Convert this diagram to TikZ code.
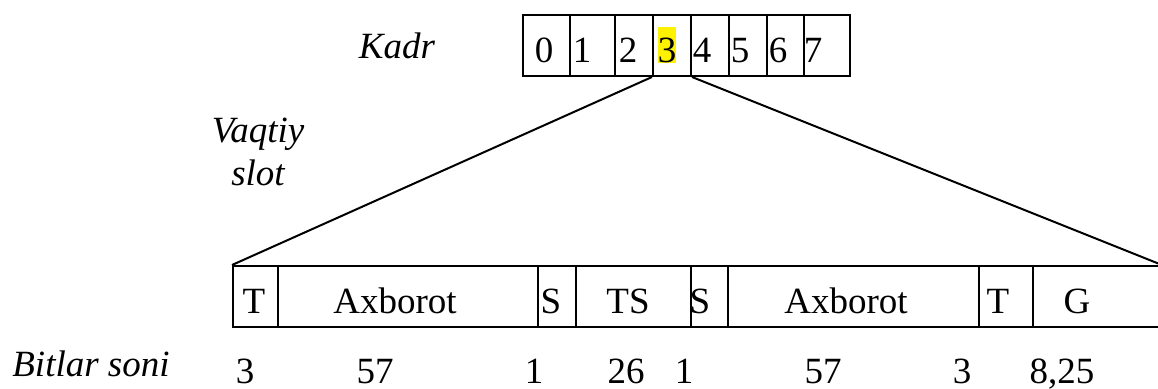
\documentclass[tikz,border=0pt]{standalone}
\usepackage{fontspec}
\setmainfont{Liberation Serif}
\begin{document}
\begin{tikzpicture}[x=1pt,y=-1pt,line width=2pt,
  cell/.style={draw,line width=2pt,minimum height=61pt,inner sep=0pt,anchor=west},
  txt/.style={inner sep=0pt,anchor=base,font=\fontsize{37}{40}\selectfont},
  itxt/.style={inner sep=0pt,anchor=base,font=\fontsize{37}{40}\selectfont\itshape},
  hl/.style={txt,fill=yellow,text height=35pt,text depth=1pt}]
\useasboundingbox (0,0) rectangle (1158,388);
% frame cells
\node[cell,minimum width=47pt] (f0) at (522,45.5) {};
\node[cell,minimum width=45pt] (f1) at (569,45.5) {};
\node[cell,minimum width=38pt] (f2) at (614,45.5) {};
\node[cell,minimum width=38pt] (f3) at (652,45.5) {};
\node[cell,minimum width=38pt] (f4) at (690,45.5) {};
\node[cell,minimum width=38pt] (f5) at (728,45.5) {};
\node[cell,minimum width=37pt] (f6) at (766,45.5) {};
\node[cell,minimum width=46pt] (f7) at (803,45.5) {};
\node[txt] (d0) at (544,62) {0};
\node[txt] (d1) at (582,62) {1};
\node[txt] (d2) at (628,62) {2};
\node[hl]  (d3) at (667,62) {3};
\node[txt] (d4) at (702,62) {4};
\node[txt] (d5) at (740,62) {5};
\node[txt] (d6) at (778,62) {6};
\node[txt] (d7) at (813,62) {7};
% slot cells
\node[cell,minimum width=45pt]  (s1) at (232,296.5) {};
\node[cell,minimum width=260pt] (s2) at (277,296.5) {};
\node[cell,minimum width=38pt]  (s3) at (537,296.5) {};
\node[cell,minimum width=115pt] (s4) at (575,296.5) {};
\node[cell,minimum width=37pt]  (s5) at (690,296.5) {};
\node[cell,minimum width=251pt] (s6) at (727,296.5) {};
\node[cell,minimum width=54pt]  (s7) at (978,296.5) {};
\node[cell,minimum width=128pt] (s8) at (1032,296.5) {};
\node[txt] (t1) at (254,313) {T};
\node[txt] (t2) at (395,313) {Axborot};
\node[txt] (t3) at (551,313) {S};
\node[txt] (t4) at (628,313) {TS};
\node[txt] (t5) at (700,313) {S};
\node[txt] (t6) at (846,313) {Axborot};
\node[txt] (t7) at (998,313) {T};
\node[txt] (t8) at (1077,313) {G};
% connectors
\draw (f3.south west) -- (s1.north west);
\draw (f3.south east) -- (s8.north east);
% labels
\node[itxt] (kadr) at (397,58) {Kadr};
\node[itxt] (vaq) at (258,142) {Vaqtiy};
\node[itxt] (slot) at (258,185) {slot};
\node[itxt] (bit) at (91,376) {Bitlar soni};
% bit counts
\node[txt] (n1) at (245,383) {3};
\node[txt] (n2) at (375,383) {57};
\node[txt] (n3) at (534,383) {1};
\node[txt] (n4) at (626,383) {26};
\node[txt] (n5) at (684,383) {1};
\node[txt] (n6) at (823,383) {57};
\node[txt] (n7) at (962,383) {3};
\node[txt] (n8) at (1062,383) {8,25};
\end{tikzpicture}
\end{document}
